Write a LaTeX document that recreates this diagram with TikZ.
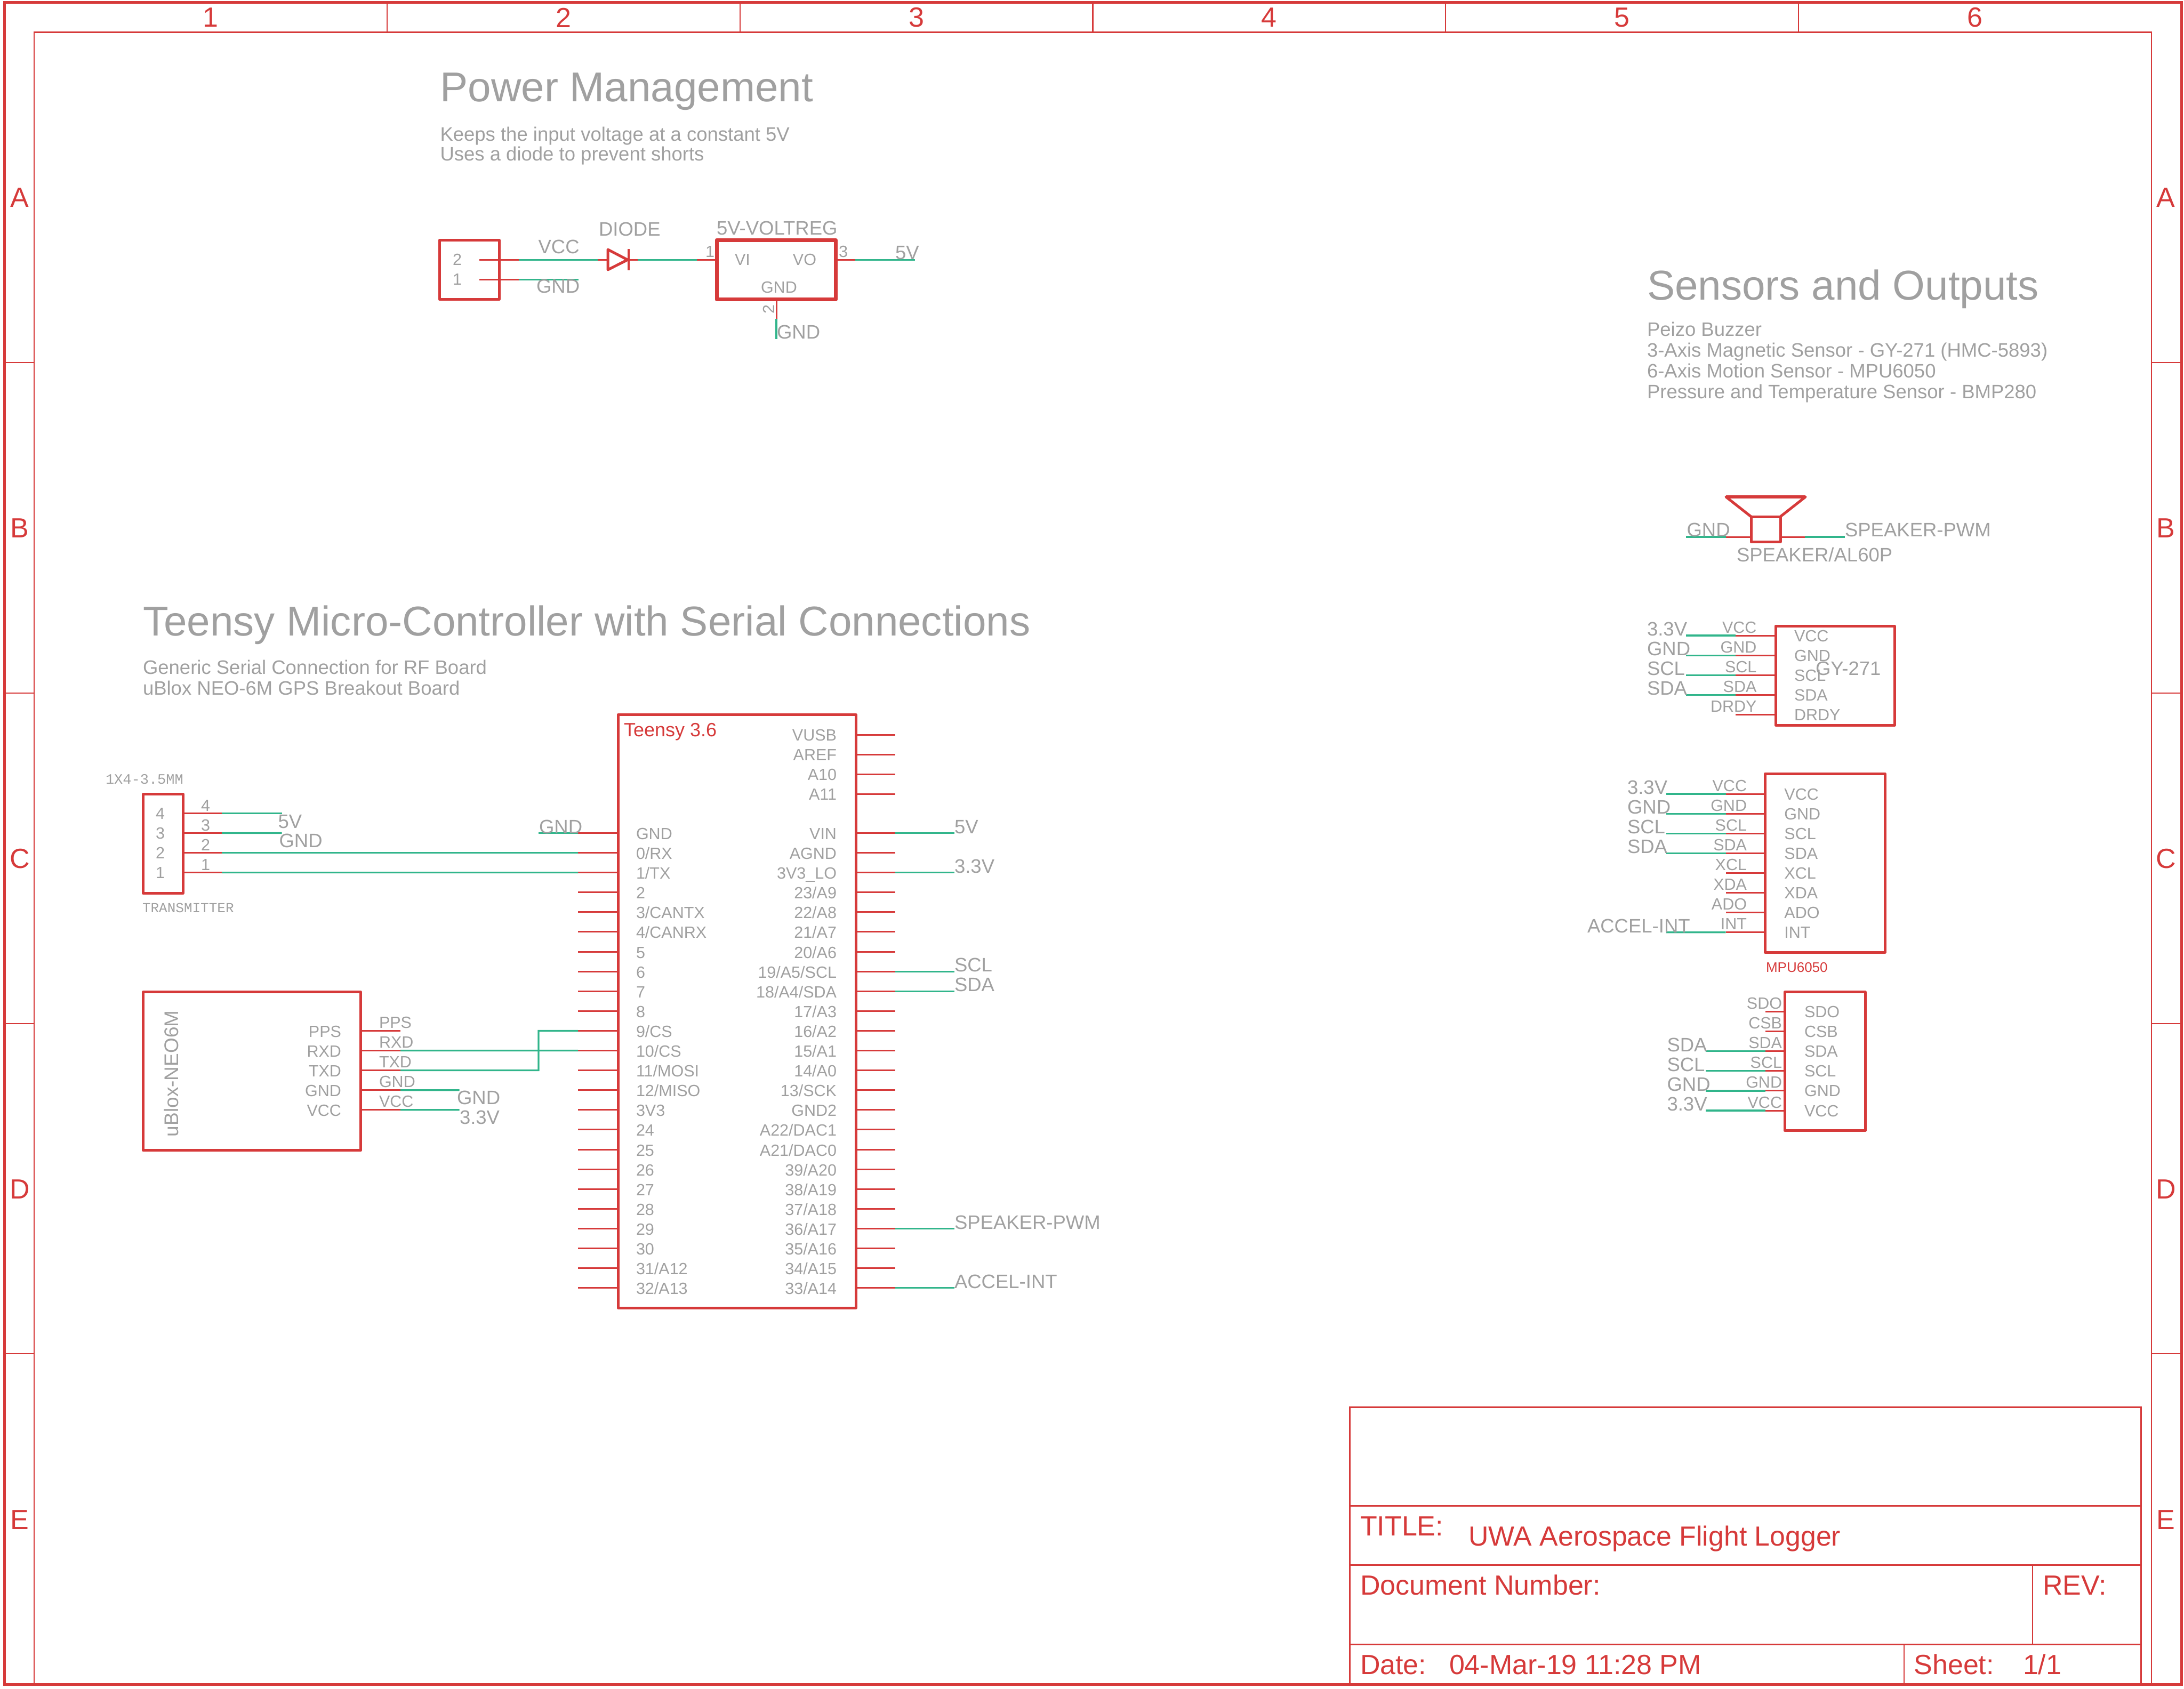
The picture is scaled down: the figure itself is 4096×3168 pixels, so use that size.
\documentclass[tikz,border=0pt]{standalone}
\usepackage{fontspec}
\setmainfont{Liberation Sans}
\newfontfamily\vecfont{Liberation Mono}
\definecolor{ered}{HTML}{D63A3A}
\definecolor{egreen}{HTML}{31B58B}
\definecolor{egrey}{HTML}{A0A0A0}
\newcounter{tn}
\newcommand{\fsz}[1]{\fontsize{#1}{#1}\selectfont}
\newcommand{\txt}[5][]{\stepcounter{tn}\node[lbl,text=egrey,font=\fsz{#2},#1] (t\arabic{tn}) at (#3,#4) {#5};}
\newcommand{\rtxt}[5][]{\stepcounter{tn}\node[lbl,text=ered,font=\fsz{#2},#1] (t\arabic{tn}) at (#3,#4) {#5};}
\newcommand{\bx}[6][]{\node[boxn,#1,minimum width={(#5-#3)*1pt},minimum height={(#6-#4)*1pt}] (#2) at ({(#3+#5)/2},{(#4+#6)/2}) {};}
\tikzset{
  lbl/.style={inner sep=0pt,outer sep=0pt,anchor=base west},
  rlbl/.style={anchor=base east},
  clbl/.style={anchor=center},
  boxn/.style={draw=ered,line width=5pt,inner sep=0pt,outer sep=0pt,rectangle,line join=round},
  pin/.style={draw=ered,line width=3pt},
  net/.style={draw=egreen,line width=3.2pt,line join=miter},
  frameo/.style={draw=ered,line width=5pt},
  framei/.style={draw=ered,line width=2.2pt},
  tblk/.style={draw=ered,line width=3pt},
}
\begin{document}
\begin{tikzpicture}[x=1pt,y=-1pt]
\useasboundingbox (0,0) rectangle (4096,3168);
% sheet frame
\draw[frameo] (8.5,4.7) rectangle (4091,3159);
\draw[framei] (64,60.5) rectangle (4035,3159);
\foreach \x in {725.8,1387.6,2049.5,2711.3,3373} \draw[framei] (\x,4.7) -- (\x,60.5);
\foreach \y in {680,1300,1920,2539} {\draw[framei] (8.5,\y) -- (64,\y); \draw[framei] (4035,\y) -- (4091,\y);}
\foreach \l [count=\i from 0] in {1,2,3,4,5,6} {\rtxt[clbl]{52}{{395+661.8*\i}}{33}{\l}}
\foreach \l [count=\i from 0] in {A,B,C,D,E} {\rtxt[clbl]{52}{37}{{371+620*\i}}{\l}\rtxt[clbl]{52}{4062}{{371+620*\i}}{\l}}
% title block
\draw[tblk] (2531.5,2639) rectangle (4015.5,3159);
\draw[tblk] (2531.5,2824.5) -- (4015.5,2824.5);
\draw[tblk] (2531.5,2935.6) -- (4015.5,2935.6);
\draw[tblk] (2531.5,3084.5) -- (4015.5,3084.5);
\draw[framei] (3812,2935.6) -- (3812,3084.5);
\draw[framei] (3571,3084.5) -- (3571,3159);
\rtxt{52}{2551}{2880.4}{TITLE:}
\rtxt{51.8}{2754.5}{2899}{UWA Aerospace Flight Logger}
\rtxt{52}{2551}{2991.5}{Document Number:}
\rtxt{52}{3831}{2991.5}{REV:}
\rtxt{52}{2551}{3140}{Date:}
\rtxt{52}{2718}{3140}{04-Mar-19 11:28 PM}
\rtxt{52}{3589.5}{3140}{Sheet:}
\rtxt{52}{3794}{3140}{1/1}
% headings
\txt{78.2}{825.5}{191}{Power Management}
\txt{36.5}{825.5}{264.5}{Keeps the input voltage at a constant 5V}
\txt{36.5}{825.5}{301.5}{Uses a diode to prevent shorts}
\txt{78.2}{3089}{562}{Sensors and Outputs}
\txt{36.5}{3089}{630}{Peizo Buzzer}
\txt{36.5}{3089}{669}{3-Axis Magnetic Sensor - GY-271 (HMC-5893)}
\txt{36.5}{3089}{708}{6-Axis Motion Sensor - MPU6050}
\txt{36.5}{3089}{747}{Pressure and Temperature Sensor - BMP280}
\txt{78.2}{268}{1192}{Teensy Micro-Controller with Serial Connections}
\txt{36.5}{268}{1264.5}{Generic Serial Connection for RF Board}
\txt{36.5}{268}{1303.5}{uBlox NEO-6M GPS Breakout Board}
% power: input connector
\bx{jack}{824.6}{450}{936}{561.7}
\bx[line width=7pt]{reg}{1344}{450}{1567.6}{561.7}
\coordinate (jp2a) at (899,487.3);\coordinate (jp2) at (973,487.3);
\coordinate (jp1a) at (899,524.3);\coordinate (jp1) at (973,524.3);
\coordinate (jn1) at (1085,524.3);
\coordinate (dl) at (1121,487.3);\coordinate (da) at (1140,487.3);
\coordinate (dt) at (1177,487.3);\coordinate (dr) at (1196,487.3);
\coordinate (rp1) at (1307,487.3);
\coordinate (rp3) at (1604,487.3);\coordinate (rn3) at (1715.6,487.3);
\coordinate (rp2) at (1456,597.7);\coordinate (rn2) at (1456,636);
\draw[pin] (jp2a) -- (jp2);\draw[pin] (jp1a) -- (jp1);
\draw[net] (jp2) -- (dl);\draw[net] (jp1) -- (jn1);
\draw[pin] (dl) -- (da);
\draw[draw=ered,line width=5pt,line join=round] (1140,468) -- (dt) -- (1140,506) -- cycle;
\draw[draw=ered,line width=4pt] (1178.5,467) -- (1178.5,507);
\draw[pin] (dt) -- (dr);
\draw[net] (dr) -- (rp1);
\draw[pin] (rp1) -- (reg.west |- rp1);
\draw[pin] (reg.east |- rp3) -- (rp3);
\draw[net] (rp3) -- (rn3);
\draw[pin] (reg.south -| rp2) -- (rp2);
\draw[net] (rp2) -- (rn2);
\txt{36.5}{1009.6}{475}{VCC}
\txt{36.5}{1006}{549}{GND}
\txt{36.5}{1123}{442}{DIODE}
\txt{36.5}{1344}{440}{5V-VOLTREG}
\txt{30.5}{1323}{482}{1}
\txt{30.5}{1573}{482}{3}
\txt[rotate=90]{30.5}{1452}{588}{2}
\txt{30.5}{1378}{497}{VI}
\txt[rlbl]{30.5}{1531}{497}{VO}
\txt{30.5}{1427}{549}{GND}
\txt{30.5}{849}{497}{2}
\txt{30.5}{849}{534}{1}
\txt{36.5}{1679}{486}{5V}
\txt{36.5}{1457}{635}{GND}
% teensy
\bx{teensy}{1159}{1340.5}{1605}{2453}
\rtxt{36}{1170}{1381.5}{Teensy 3.6}
\foreach \l [count=\i from 0] in {GND,0/RX,1/TX,2,3/CANTX,4/CANRX,5,6,7,8,9/CS,10/CS,11/MOSI,12/MISO,3V3,24,25,26,27,28,29,30,31/A12,32/A13} {
  \coordinate (TL\i) at (1084,{1562.4+37.1*\i});
  \draw[pin] (teensy.west |- TL\i) -- (TL\i);
  \txt{30.5}{1193}{{1574.4+37.1*\i}}{\l}
}
\foreach \l [count=\i from 0] in {VIN,AGND,3V3\_LO,23/A9,22/A8,21/A7,20/A6,19/A5/SCL,18/A4/SDA,17/A3,16/A2,15/A1,14/A0,13/SCK,GND2,A22/DAC1,A21/DAC0,39/A20,38/A19,37/A18,36/A17,35/A16,34/A15,33/A14} {
  \coordinate (TR\i) at (1679,{1562.4+37.1*\i});
  \draw[pin] (teensy.east |- TR\i) -- (TR\i);
  \txt[rlbl]{30.5}{1569}{{1574.4+37.1*\i}}{\l}
}
\foreach \l [count=\i from 0] in {VUSB,AREF,A10,A11} {
  \coordinate (TT\i) at (1679,{1378+37.1*\i});
  \draw[pin] (teensy.east |- TT\i) -- (TT\i);
  \txt[rlbl]{30.5}{1569}{{1389.5+37.1*\i}}{\l}
}
\foreach \i/\l in {0/5V,2/3.3V,7/SCL,8/SDA,20/SPEAKER-PWM,23/ACCEL-INT} {
  \coordinate (TN\i) at (1790,{1562.4+37.1*\i});
  \draw[net] (TR\i) -- (TN\i);
  \txt{36.5}{1790}{{1563+37.1*\i}}{\l}
}
\coordinate (TGn) at (1010,1562.4);
\draw[net] (TL0) -- (TGn);
\txt{36.5}{1011}{1563}{GND}
% transmitter connector
\bx{tx}{268.4}{1489}{343}{1675.5}
\txt[font=\vecfont\fsz{27}]{27}{198}{1470}{1X4-3.5MM}
\txt[font=\vecfont\fsz{26}]{26}{267}{1711}{TRANSMITTER}
\foreach \l [count=\i from 0] in {4,3,2,1} {
  \coordinate (TXp\i) at (416,{1525.3+37.1*\i});
  \draw[pin] (tx.east |- TXp\i) -- (TXp\i);
  \txt{30.5}{292}{{1536+37.1*\i}}{\l}
  \txt{30.5}{377}{{1521+37.1*\i}}{\l}
}
\coordinate (TXn0) at (528.6,1525.3);\coordinate (TXn1) at (528.6,1562.4);
\draw[net] (TXp0) -- (TXn0);\draw[net] (TXp1) -- (TXn1);
\draw[net] (TXp2) -- (TL1);\draw[net] (TXp3) -- (TL2);
\txt{36.5}{521.6}{1553}{5V}
\txt{36.5}{523.5}{1589.5}{GND}
% ublox
\bx{ub}{268.4}{1860.7}{676.6}{2157.6}
\txt[rotate=90]{37}{334}{2132}{uBlox-NEO6M}
\foreach \l [count=\i from 0] in {PPS,RXD,TXD,GND,VCC} {
  \coordinate (UBp\i) at (751,{1933.4+37.1*\i});
  \draw[pin] (ub.east |- UBp\i) -- (UBp\i);
  \txt[rlbl]{30.5}{640}{{1945+37.1*\i}}{\l}
  \txt{30.5}{711}{{1928.5+37.1*\i}}{\l}
}
\coordinate (jogA) at (1010,2007.6);\coordinate (jogB) at (1010,1933.4);
\draw[net] (UBp1) -- (TL11);
\draw[net] (UBp2) -- (jogA) -- (jogB) -- (TL10);
\coordinate (UBn3) at (861.5,2044.7);\coordinate (UBn4) at (861.5,2081.8);
\draw[net] (UBp3) -- (UBn3);\draw[net] (UBp4) -- (UBn4);
\txt{36.5}{857}{2071}{GND}
\txt{36.5}{862}{2108.5}{3.3V}
% speaker
\bx{spk}{3284}{969}{3339}{1016.7}
\draw[draw=ered,line width=5pt,line join=round] (spk.north west) -- (3237,932) -- (3386,932) -- (spk.north east);
\draw[draw=ered,line width=6pt] (3237,932) -- (3386,932);
\coordinate (SPl) at (3237,1007);\coordinate (SPr) at (3385,1007);
\coordinate (SNl) at (3162,1007);\coordinate (SNr) at (3460,1007);
\draw[pin] (spk.west |- SPl) -- (SPl);\draw[pin] (spk.east |- SPr) -- (SPr);
\draw[net] (SPl) -- (SNl);\draw[net] (SPr) -- (SNr);
\txt{36.5}{3163.5}{1006.5}{GND}
\txt{36.5}{3460}{1006.5}{SPEAKER-PWM}
\txt{36.5}{3257}{1053}{SPEAKER/AL60P}
% GY-271
\bx{gy}{3330}{1174}{3553}{1360}
\foreach \l [count=\i from 0] in {VCC,GND,SCL,SDA,DRDY} {
  \coordinate (GYp\i) at (3255.4,{1192+37.1*\i});
  \draw[pin] (gy.west |- GYp\i) -- (GYp\i);
  \txt[rlbl]{30.5}{3294.4}{{1187+37.1*\i}}{\l}
  \txt{30.5}{3365}{{1203+37.1*\i}}{\l}
}
\foreach \l [count=\i from 0] in {3.3V,GND,SCL,SDA} {
  \coordinate (GYn\i) at (3162.4,{1192+37.1*\i});
  \draw[net] (GYp\i) -- (GYn\i);
  \txt{36.5}{3089}{{1192.5+37.1*\i}}{\l}
}
\txt{36.5}{3405}{1266.5}{GY-271}
% MPU6050
\bx{mpu}{3310.7}{1451}{3535}{1786.4}
\foreach \l [count=\i from 0] in {VCC,GND,SCL,SDA,XCL,XDA,ADO,INT} {
  \coordinate (MPp\i) at (3236.6,{1489+37.1*\i});
  \draw[pin] (mpu.west |- MPp\i) -- (MPp\i);
  \txt[rlbl]{30.5}{3276}{{1484+37.1*\i}}{\l}
  \txt{30.5}{3346.4}{{1500+37.1*\i}}{\l}
}
\foreach \l [count=\i from 0] in {3.3V,GND,SCL,SDA} {
  \coordinate (MPn\i) at (3125,{1489+37.1*\i});
  \draw[net] (MPp\i) -- (MPn\i);
  \txt{36.5}{3052}{{1489.5+37.1*\i}}{\l}
}
\coordinate (MPn7) at (3125,1748.7);
\draw[net] (MPp7) -- (MPn7);
\txt{36.5}{2977}{1749}{ACCEL-INT}
\rtxt{26}{3312}{1823}{MPU6050}
% BMP280
\bx{bmp}{3347}{1860.8}{3498}{2120.6}
\foreach \l [count=\i from 0] in {SDO,CSB,SDA,SCL,GND,VCC} {
  \coordinate (BMp\i) at (3310.7,{1897.5+37.1*\i});
  \draw[pin] (bmp.west |- BMp\i) -- (BMp\i);
  \txt[rlbl]{30.5}{3342}{{1892.5+37.1*\i}}{\l}
  \txt{30.5}{3384}{{1908.5+37.1*\i}}{\l}
}
\foreach \i/\l in {2/SDA,3/SCL,4/GND,5/3.3V} {
  \coordinate (BMn\i) at (3199,{1897.5+37.1*\i});
  \draw[net] (BMp\i) -- (BMn\i);
  \txt{36.5}{3126.5}{{1898+37.1*\i}}{\l}
}
\end{tikzpicture}
\end{document}
